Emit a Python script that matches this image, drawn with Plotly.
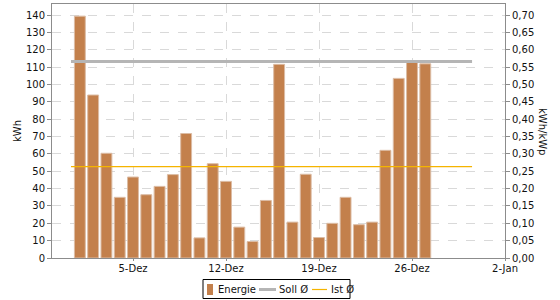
import plotly.graph_objects as go

# ---- data ----
days = ['2011-12-01', '2011-12-02', '2011-12-03', '2011-12-04', '2011-12-05', '2011-12-06',
        '2011-12-07', '2011-12-08', '2011-12-09', '2011-12-10', '2011-12-11', '2011-12-12',
        '2011-12-13', '2011-12-14', '2011-12-15', '2011-12-16', '2011-12-17', '2011-12-18',
        '2011-12-19', '2011-12-20', '2011-12-21', '2011-12-22', '2011-12-23', '2011-12-24',
        '2011-12-25', '2011-12-26', '2011-12-27']
energie = [139.5, 94.0, 60.4, 35.0, 46.7, 36.5, 41.3, 48.1, 71.8, 11.6, 54.4, 44.2,
           17.8, 9.5, 33.2, 111.7, 20.7, 48.3, 11.8, 20.0, 35.0, 19.2, 20.7, 62.1,
           103.6, 112.8, 112.0]
avg_x = ['2011-11-30T08:00:00', '2011-12-30T12:30:00']
soll = [0.567, 0.567]
ist = [0.2635, 0.2635]
tick_dates = ['2011-12-05', '2011-12-12', '2011-12-19', '2011-12-26', '2012-01-02']
tick_labels = ['5-Dez', '12-Dez', '19-Dez', '26-Dez', '2-Jan']

GRID = '#d9d9d9'
AXIS = '#8c8c8c'
BAR = '#c3804c'
SOLL_C = '#b5b5b5'
IST_C = '#f5b400'
DAY_MS = 86400000

W, H = 560, 300
ML, MR, MT, MB = 52, 55, 4, 42
PW, PH = W - ML - MR, H - MT - MB


def px(x):
    return (x - ML) / PW


def py(y):
    return (H - MB - y) / PH


fig = go.Figure()
fig.add_trace(go.Bar(
    x=days, y=energie, name='Energie', width=0.82 * DAY_MS,
    marker=dict(color=BAR, line=dict(color='#dcbca4', width=1)),
))
fig.add_trace(go.Scatter(
    x=avg_x, y=soll, name='Soll Ø', mode='lines', yaxis='y2',
    line=dict(color=SOLL_C, width=3),
))
fig.add_trace(go.Scatter(
    x=avg_x, y=ist, name='Ist Ø', mode='lines', yaxis='y2',
    line=dict(color=IST_C, width=1.2),
))

# manual legend (box, symbols, labels)
shapes = [
    dict(type='rect', xref='paper', yref='paper', x0=px(203), x1=px(350), y0=py(279.5), y1=py(298.5),
         line=dict(color='black', width=1), fillcolor='white', layer='above'),
    dict(type='rect', xref='paper', yref='paper', x0=px(207), x1=px(213), y0=py(284), y1=py(295),
         line=dict(width=0), fillcolor=BAR, layer='above'),
    dict(type='line', xref='paper', yref='paper', x0=px(259), x1=px(276), y0=py(289.5), y1=py(289.5),
         line=dict(color=SOLL_C, width=3), layer='above'),
    dict(type='line', xref='paper', yref='paper', x0=px(312), x1=px(327), y0=py(289.5), y1=py(289.5),
         line=dict(color=IST_C, width=1.2), layer='above'),
]
legend_texts = [('Energie', 216), ('Soll Ø', 277), ('Ist Ø', 329)]
annotations = [
    dict(text=t, xref='paper', yref='paper', x=px(x0), y=py(289.5), xanchor='left', yanchor='middle',
         showarrow=False, font=dict(size=10, color='#111111'))
    for t, x0 in legend_texts
]
annotations += [
    dict(text='kWh', xref='paper', yref='paper', x=px(17), y=0.5,
         xanchor='center', yanchor='middle', textangle=-90, showarrow=False,
         font=dict(size=10, color='#111111')),
    dict(text='kWh/kWp', xref='paper', yref='paper', x=px(543), y=0.5,
         xanchor='center', yanchor='middle', textangle=90, showarrow=False,
         font=dict(size=10, color='#111111')),
]

fig.update_layout(
    width=W, height=H,
    margin=dict(l=ML, r=MR, t=MT, b=MB, autoexpand=False),
    paper_bgcolor='white', plot_bgcolor='white',
    font=dict(family='DejaVu Sans', size=10, color='#222222'),
    separators=',.',
    showlegend=False,
    xaxis=dict(
        type='date', range=['2011-11-28 21:40', '2012-01-02 00:00'],
        tickvals=tick_dates, ticktext=tick_labels,
        showgrid=True, gridcolor=GRID, griddash='dash', gridwidth=1,
        showline=True, linecolor=AXIS, linewidth=1, mirror=True,
        ticks='outside', ticklen=2, tickcolor=AXIS, ticklabelstandoff=-1,
        tickfont=dict(size=10, color='#111111'),
    ),
    yaxis=dict(
        range=[0, 146.5], tick0=0, dtick=10,
        showgrid=True, gridcolor=GRID, griddash='dash', gridwidth=1,
        showline=True, linecolor=AXIS, linewidth=1,
        ticks='outside', ticklen=4, tickcolor=AXIS, zeroline=False,
        tickfont=dict(size=10, color='#111111'),
    ),
    yaxis2=dict(
        overlaying='y', side='right', range=[0, 0.7325], tick0=0, dtick=0.05,
        tickformat='.2f', showgrid=False,
        showline=True, linecolor=AXIS, linewidth=1,
        ticks='outside', ticklen=4, tickcolor=AXIS, zeroline=False,
        tickfont=dict(size=10, color='#111111'),
    ),
    shapes=shapes,
    annotations=annotations,
)

fig.write_html('out.html')
